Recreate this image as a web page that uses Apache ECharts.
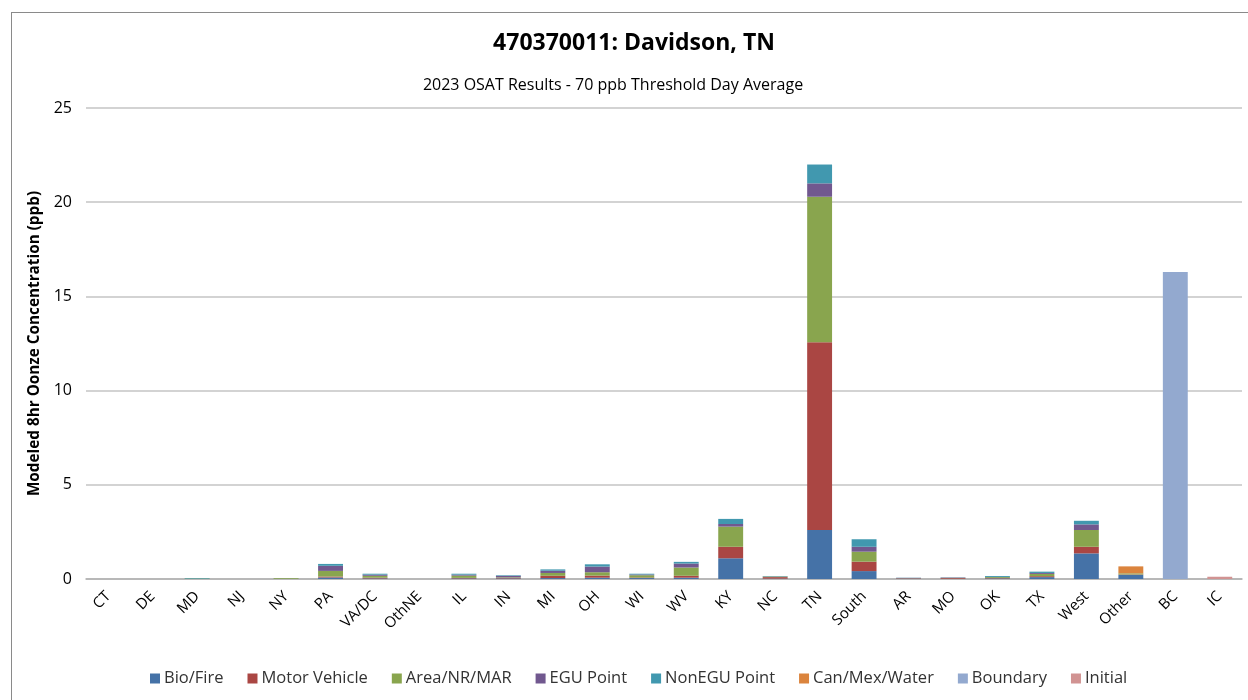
<!DOCTYPE html>
<html>
<head>
<meta charset="utf-8">
<script src="https://cdn.jsdelivr.net/npm/echarts@6/dist/echarts.min.js"></script>
<style>
  html, body { margin: 0; padding: 0; background: #fff; }
  #frame { position: absolute; left: 11px; top: 12px; width: 1250px; height: 700px;
           border-left: 1.5px solid #8a8a8a; border-top: 1.5px solid #8a8a8a; }
  #chart { position: absolute; left: 0; top: 0; width: 1248px; height: 700px; }
</style>
</head>
<body>
<div id="frame"></div>
<div id="chart"></div>
<script>
// Source regions (x-axis categories)
const categories = ['CT', 'DE', 'MD', 'NJ', 'NY', 'PA', 'VA/DC', 'OthNE', 'IL', 'IN', 'MI', 'OH', 'WI', 'WV',
  'KY', 'NC', 'TN', 'South', 'AR', 'MO', 'OK', 'TX', 'West', 'Other', 'BC', 'IC'];

// Contributions by source sector (ppb), one value per region
const bioFire       = [0, 0, 0, 0, 0.01, 0.08, 0.03, 0, 0.03, 0.03, 0.05, 0.07, 0.05, 0.07, 1.10, 0.02, 2.60, 0.42, 0.01, 0.01, 0.03, 0.10, 1.36, 0.22, 0, 0];
const motorVehicle  = [0, 0, 0, 0, 0, 0.05, 0.04, 0, 0.03, 0.03, 0.12, 0.11, 0.03, 0.10, 0.61, 0.08, 9.96, 0.50, 0.02, 0.04, 0.02, 0.05, 0.35, 0.02, 0, 0];
const areaNrMar     = [0, 0, 0.02, 0, 0.04, 0.30, 0.10, 0, 0.12, 0.03, 0.15, 0.18, 0.12, 0.44, 1.07, 0.03, 7.73, 0.53, 0.01, 0.01, 0.05, 0.12, 0.89, 0.06, 0, 0];
const eguPoint      = [0, 0, 0, 0, 0, 0.27, 0.06, 0, 0.05, 0.08, 0.12, 0.30, 0.04, 0.21, 0.14, 0.01, 0.71, 0.26, 0.02, 0.02, 0.01, 0.05, 0.30, 0, 0, 0];
const nonEguPoint   = [0, 0, 0.03, 0, 0, 0.10, 0.05, 0, 0.05, 0.03, 0.07, 0.12, 0.04, 0.09, 0.27, 0.02, 1.00, 0.40, 0.01, 0.01, 0.05, 0.07, 0.19, 0, 0, 0];
const canMexWater   = [0, 0, 0, 0, 0, 0, 0, 0, 0, 0, 0, 0, 0, 0, 0, 0, 0, 0, 0, 0, 0, 0, 0, 0.37, 0, 0];
const boundary      = [0, 0, 0, 0, 0, 0, 0, 0, 0, 0, 0, 0, 0, 0, 0, 0, 0, 0, 0, 0, 0, 0, 0, 0, 16.3, 0];
const initial       = [0, 0, 0, 0, 0, 0, 0, 0, 0, 0, 0, 0, 0, 0, 0, 0, 0, 0, 0, 0, 0, 0, 0, 0, 0, 0.12];

const yTicks = [0, 5, 10, 15, 20, 25];

const seriesDefs = [
  { name: 'Bio/Fire',      data: bioFire,      color: '#4572A7' },
  { name: 'Motor Vehicle', data: motorVehicle, color: '#AA4643' },
  { name: 'Area/NR/MAR',   data: areaNrMar,    color: '#89A54E' },
  { name: 'EGU Point',     data: eguPoint,     color: '#71588F' },
  { name: 'NonEGU Point',  data: nonEguPoint,  color: '#4198AF' },
  { name: 'Can/Mex/Water', data: canMexWater,  color: '#DB843D' },
  { name: 'Boundary',      data: boundary,     color: '#93A9CF' },
  { name: 'Initial',       data: initial,      color: '#D19392' }
];

const font = '"Open Sans", "Noto Sans", sans-serif';
const chart = echarts.init(document.getElementById('chart'), null, { renderer: 'canvas' });

chart.setOption({
  animation: false,
  backgroundColor: 'transparent',
  textStyle: { fontFamily: font, color: '#000' },
  graphic: [
    { type: 'text', x: 634, y: 43, silent: true,
      style: { text: '470370011: Davidson, TN', fill: '#000', textAlign: 'center', textVerticalAlign: 'middle',
               font: 'bold 23px ' + font } },
    { type: 'text', x: 613, y: 85, silent: true,
      style: { text: '2023 OSAT Results - 70 ppb Threshold Day Average', fill: '#000', textAlign: 'center',
               textVerticalAlign: 'middle', font: '16px ' + font } }
  ],
  legend: {
    bottom: 8, left: 145, itemWidth: 10, itemHeight: 10, itemGap: 24,
    icon: 'rect',
    textStyle: { fontFamily: font, fontSize: 16.5, color: '#333', padding: [0, 0, 0, -1] },
    data: seriesDefs.map(s => s.name)
  },
  grid: { left: 86, right: 6, top: 108, bottom: 121, containLabel: false },
  xAxis: {
    type: 'category',
    data: categories,
    axisLine: { lineStyle: { color: '#b0b0b0', width: 1.5 } },
    axisTick: { show: false },
    axisLabel: { rotate: 45, fontFamily: font, fontSize: 15, color: '#000', margin: 15, interval: 0 }
  },
  yAxis: {
    type: 'value',
    min: yTicks[0], max: yTicks[yTicks.length - 1], interval: yTicks[1] - yTicks[0],
    name: 'Modeled 8hr Oonze Concentration (ppb)',
    nameLocation: 'middle', nameGap: 44,
    nameTextStyle: { fontFamily: font, fontSize: 15.3, fontWeight: 'bold', color: '#000' },
    axisLine: { show: false },
    axisTick: { show: false },
    axisLabel: { fontFamily: font, fontSize: 16, color: '#000', margin: 14 },
    splitLine: { lineStyle: { color: '#c4c4c4', width: 1.5 } }
  },
  series: seriesDefs.map(s => ({
    name: s.name,
    type: 'bar',
    stack: 'total',
    barWidth: '56%',
    data: s.data,
    itemStyle: { color: s.color }
  }))
});
</script>
</body>
</html>
